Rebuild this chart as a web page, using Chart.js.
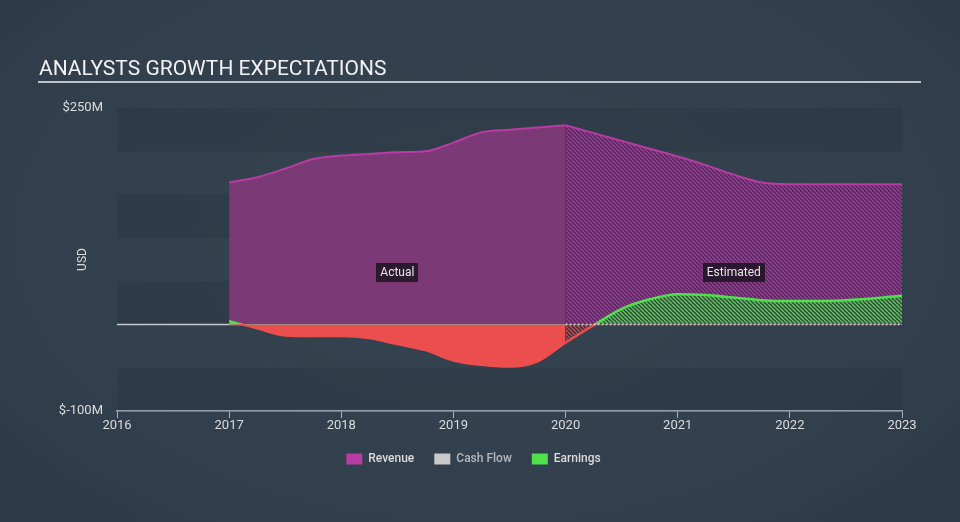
<!DOCTYPE html>
<html>
<head>
<meta charset="utf-8">
<script src="https://cdn.jsdelivr.net/npm/chart.js@4.4.0/dist/chart.umd.min.js"></script>
<style>
    html, body { margin: 0; padding: 0; width: 960px; height: 522px; overflow: hidden; }
    body { background: radial-gradient(ellipse 75% 85% at 50% 45%, #36444f 0%, #323f4d 60%, #2c3846 100%); }
    #wrap { position: relative; width: 960px; height: 522px; }
</style>
</head>
<body>
<div id="wrap"><canvas id="growthChart" width="960" height="522"></canvas></div>
<script>
// --------- Données (en millions USD) ---------------------------------
const actualYears = [2017, 2017.25, 2017.5, 2017.75, 2018, 2018.25, 2018.5, 2018.75, 2019, 2019.25, 2019.5, 2019.75, 2020];
const revenueActual = [164, 170, 180, 191, 195, 197, 199, 200, 210, 222, 225, 227.5, 230];
const earningsActual = [4, -4.7, -13, -13.6, -13.6, -16, -23, -30, -42, -47, -49, -43, -21];

const estimateYears = [2020, 2020.25, 2020.5, 2020.75, 2021, 2021.25, 2021.5, 2021.75, 2022, 2022.5, 2023];
const revenueEstimate = [230, 221, 212, 203, 194, 184, 173, 164, 162, 162, 162];
const earningsEstimate = [-21, -1, 18, 29, 35, 34, 31, 28, 27, 28, 33];

const cashFlow = [];

const xTicks = [2016, 2017, 2018, 2019, 2020, 2021, 2022, 2023];
const yTickLabels = { 250: "$250M", "-100": "$-100M" };
const legendNames = ["Revenue", "Cash Flow", "Earnings"];

const FONT = "Roboto, 'Noto Sans', sans-serif";
const C = {
    revLine: "#b93ba4",
    revFill: "#7b3a75",
    green: "#4fe04c",
    red: "#ec4e4e",
    cash: "#c9c9c9",
    text: "#dcdcdc",
    axis: "#a9b3bf"
};

function pts(xs, ys) {
    return xs.map((x, i) => ({ x: x, y: ys[i] }));
}

// motif hachuré "\\\\" pour les estimations
function hatch(bg, fg) {
    const s = 4;
    const c = document.createElement("canvas");
    c.width = s; c.height = s;
    const g = c.getContext("2d");
    g.fillStyle = bg;
    g.fillRect(0, 0, s, s);
    g.strokeStyle = fg;
    g.lineWidth = 1.3;
    g.beginPath();
    [-s, 0, s].forEach(o => { g.moveTo(o, 0); g.lineTo(o + s, s); });
    g.stroke();
    return g.createPattern(c, "repeat");
}

// ligne verte au-dessus de zéro, rouge en dessous
function signColor(ctx) {
    const chart = ctx.chart;
    const area = chart.chartArea;
    if (!area) return C.green;
    const y0 = chart.scales.y.getPixelForValue(0);
    const t = Math.min(1, Math.max(0, (y0 - area.top) / (area.bottom - area.top)));
    const grad = chart.ctx.createLinearGradient(0, area.top, 0, area.bottom);
    grad.addColorStop(0, C.green);
    grad.addColorStop(t, C.green);
    grad.addColorStop(t, C.red);
    grad.addColorStop(1, C.red);
    return grad;
}

const revHatch = hatch("#4c3059", "#a03c97");
const greenHatch = hatch("#3b4d47", "#5fc85c");
const redHatch = hatch("#363c49", "#c44a4b");

// --------- Plugins : titre, bandes, ligne zéro, étiquettes ----------
const decorPlugin = {
    id: "decor",
    beforeDatasetsDraw(chart) {
        const { ctx, chartArea: a, scales: { x, y } } = chart;
        ctx.save();
        // bandes horizontales
        for (let v = 250, i = 0; v > -100; v -= 50, i++) {
            if (i % 2 === 0) {
                const top = y.getPixelForValue(v);
                const bot = y.getPixelForValue(v - 50);
                ctx.fillStyle = "rgba(26, 35, 46, 0.15)";
                ctx.fillRect(a.left, top, a.right - a.left, bot - top);
            }
        }
        // ligne zéro (partie réelle)
        const y0 = Math.round(y.getPixelForValue(0)) + 0.5;
        ctx.strokeStyle = "#c4c8cd";
        ctx.lineWidth = 1.5;
        ctx.beginPath();
        ctx.moveTo(a.left, y0);
        ctx.lineTo(x.getPixelForValue(2020), y0);
        ctx.stroke();
        ctx.restore();
    },
    afterDatasetsDraw(chart) {
        const { ctx, chartArea: a, scales: { x, y } } = chart;
        ctx.save();
        const y0 = Math.round(y.getPixelForValue(0)) + 0.5;
        ctx.strokeStyle = "#d8d8d8";
        ctx.lineWidth = 1.5;
        ctx.setLineDash([2, 2]);
        ctx.beginPath();
        ctx.moveTo(x.getPixelForValue(2020), y0);
        ctx.lineTo(a.right, y0);
        ctx.stroke();
        ctx.setLineDash([]);

        // étiquettes Actual / Estimated
        const ly = a.top + (a.bottom - a.top) * 0.543;
        ctx.font = "12px " + FONT;
        ctx.textAlign = "center";
        ctx.textBaseline = "middle";
        [["Actual", actualYears[0], 2020], ["Estimated", 2020, estimateYears[estimateYears.length - 1]]].forEach(([txt, x1, x2]) => {
            const cx = (x.getPixelForValue(x1) + x.getPixelForValue(x2)) / 2;
            const w = ctx.measureText(txt).width + 8;
            ctx.fillStyle = "rgba(32, 20, 36, 0.88)";
            ctx.fillRect(Math.round(cx - w / 2), Math.round(ly - 9.5), Math.round(w), 19);
            ctx.fillStyle = "#e6e6e6";
            ctx.fillText(txt, cx, ly + 0.5);
        });
        ctx.restore();
    },
    afterDraw(chart) {
        const ctx = chart.ctx;
        ctx.save();
        ctx.font = "21px " + FONT;
        ctx.fillStyle = "#f2f2f2";
        ctx.textAlign = "left";
        ctx.textBaseline = "alphabetic";
        ctx.fillText("ANALYSTS GROWTH EXPECTATIONS", 39, 75);
        ctx.fillStyle = "#bcc1c8";
        ctx.fillRect(38, 81, 883, 2);
        ctx.restore();
    }
};

// --------- Graphique ----------
function drawChart() {
    const canvas = document.getElementById("growthChart");
    const ctx = canvas.getContext("2d");

    new Chart(ctx, {
        type: "line",
        data: {
            datasets: [
                {
                    label: "Earnings",
                    data: pts(actualYears, earningsActual),
                    borderColor: signColor,
                    borderWidth: 2,
                    fill: { target: "origin", above: C.green, below: C.red },
                    order: 0
                },
                {
                    label: "Earnings (est.)",
                    data: pts(estimateYears, earningsEstimate),
                    borderColor: signColor,
                    borderWidth: 2.5,
                    fill: { target: "origin", above: greenHatch, below: redHatch },
                    order: 0
                },
                {
                    label: "Revenue",
                    data: pts(actualYears, revenueActual),
                    borderColor: C.revLine,
                    borderWidth: 2,
                    backgroundColor: C.revFill,
                    fill: "origin",
                    order: 1
                },
                {
                    label: "Revenue (est.)",
                    data: pts(estimateYears, revenueEstimate),
                    borderColor: C.revLine,
                    borderWidth: 2,
                    backgroundColor: revHatch,
                    fill: "origin",
                    order: 1
                },
                {
                    label: "Cash Flow",
                    data: cashFlow,
                    borderColor: C.cash,
                    order: 2
                }
            ]
        },
        options: {
            responsive: false,
            animation: false,
            elements: { point: { radius: 0, hoverRadius: 0 }, line: { cubicInterpolationMode: "monotone" } },
            layout: { padding: { left: 45, right: 58, top: 108, bottom: 47 } },
            plugins: {
                tooltip: { enabled: false },
                legend: {
                    position: "bottom",
                    onClick: null,
                    labels: {
                        boxWidth: 16,
                        boxHeight: 11,
                        padding: 20,
                        font: { family: FONT, size: 12, weight: "500" },
                        generateLabels: () => legendNames.map((name, i) => ({
                            text: name,
                            fillStyle: [C.revLine, C.cash, C.green][i],
                            strokeStyle: [C.revLine, C.cash, C.green][i],
                            lineWidth: 0,
                            hidden: false,
                            fontColor: name === "Cash Flow" ? "#b4b8bd" : C.text
                        }))
                    }
                }
            },
            scales: {
                x: {
                    type: "linear",
                    min: xTicks[0],
                    max: xTicks[xTicks.length - 1],
                    afterBuildTicks: scale => { scale.ticks = xTicks.map(v => ({ value: v })); },
                    afterFit: scale => { scale.height = 22; },
                    ticks: {
                        color: C.text,
                        font: { family: FONT, size: 13 },
                        padding: 0,
                        maxRotation: 0,
                        callback: v => String(v)
                    },
                    grid: { display: true, drawOnChartArea: false, drawTicks: true, tickLength: 7, color: C.axis, lineWidth: 1 },
                    border: { display: true, color: C.axis, width: 1.5 }
                },
                y: {
                    min: -100,
                    max: 250,
                    afterFit: scale => { scale.width = 72; },
                    ticks: {
                        stepSize: 50,
                        color: C.text,
                        padding: 14,
                        font: { family: FONT, size: 13 },
                        callback: v => yTickLabels[v] || ""
                    },
                    grid: { display: false, drawTicks: false },
                    border: { display: false },
                    title: {
                        display: true,
                        text: "USD",
                        color: C.text,
                        font: { family: FONT, size: 12 },
                        padding: { top: 31, bottom: 0 }
                    }
                }
            }
        },
        plugins: [decorPlugin]
    });
}

// --------- Point d’entrée ----------
document.addEventListener("DOMContentLoaded", drawChart);
</script>
</body>
</html>
